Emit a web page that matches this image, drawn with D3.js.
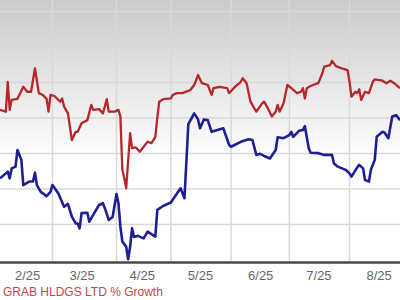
<!DOCTYPE html>
<html><head><meta charset="utf-8">
<script src="https://cdn.jsdelivr.net/npm/d3@7"></script>
<style>html,body{margin:0;padding:0;background:#fff;}svg{display:block;}</style>
</head><body>
<svg id="c" width="400" height="300"></svg>
<script>
const monthLabels = ["2/25","3/25","4/25","5/25","6/25","7/25","8/25"];
const monthTicks = ["2025-02-01","2025-03-01","2025-04-01","2025-05-01","2025-06-01","2025-07-01","2025-08-01"];
const gridDates = ["2025-02-14","2025-03-19","2025-04-16","2025-05-17","2025-06-16","2025-07-17"];
const gridValues = [40,30,20,10,0,-10,-20];
const legendText = "GRAB HLDGS LTD % Growth";

const redDates = ["2025-01-18","2025-01-21","2025-01-22","2025-01-23","2025-01-24","2025-01-27","2025-01-30","2025-02-01","2025-02-03","2025-02-05","2025-02-07","2025-02-09","2025-02-11","2025-02-12","2025-02-13","2025-02-15","2025-02-18","2025-02-19","2025-02-20","2025-02-22","2025-02-24","2025-02-26","2025-02-27","2025-03-01","2025-03-04","2025-03-06","2025-03-07","2025-03-10","2025-03-12","2025-03-14","2025-03-15","2025-03-18","2025-03-20","2025-03-21","2025-03-22","2025-03-23","2025-03-24","2025-03-26","2025-03-27","2025-03-29","2025-03-31","2025-04-04","2025-04-06","2025-04-08","2025-04-09","2025-04-10","2025-04-12","2025-04-16","2025-04-17","2025-04-19","2025-04-22","2025-04-26","2025-04-28","2025-04-30","2025-05-02","2025-05-05","2025-05-07","2025-05-08","2025-05-11","2025-05-15","2025-05-16","2025-05-19","2025-05-22","2025-05-23","2025-05-25","2025-05-27","2025-05-29","2025-05-30","2025-06-02","2025-06-03","2025-06-05","2025-06-07","2025-06-09","2025-06-10","2025-06-11","2025-06-13","2025-06-15","2025-06-17","2025-06-20","2025-06-22","2025-06-23","2025-06-24","2025-06-25","2025-06-27","2025-07-01","2025-07-03","2025-07-04","2025-07-07","2025-07-08","2025-07-10","2025-07-13","2025-07-16","2025-07-17","2025-07-18","2025-07-20","2025-07-21","2025-07-22","2025-07-23","2025-07-25","2025-07-27","2025-07-29","2025-07-30","2025-08-03","2025-08-05","2025-08-07","2025-08-09","2025-08-12"];
const redValues = [12.3,11.8,20.2,12.3,15.1,15.4,18.8,17.4,17.4,24.0,17.0,16.5,15.4,11.8,16.5,16.2,14.6,15.5,13.2,11.3,3.8,6.1,6.1,8.5,9.4,13.7,12.3,12.5,11.3,15.3,11.8,11.8,12.3,10.4,-4.6,-6.9,-9.8,5.7,1.5,1.7,0.5,3.3,2.9,4.7,10.0,14.6,15.3,15.5,16.5,17.0,17.0,17.9,19.3,22.1,19.8,19.3,16.5,18.4,18.8,18.4,17.0,18.8,20.2,21.2,19.8,14.6,12.7,11.8,14.1,14.6,12.7,10.4,11.8,13.7,11.8,14.1,19.3,18.4,17.0,17.4,18.4,15.5,18.4,19.0,19.9,22.6,24.5,24.9,26.1,24.6,24.0,23.5,20.2,16.0,17.4,17.0,18.1,15.1,17.4,17.0,20.2,20.9,20.5,19.8,20.5,19.8,18.4];

const blueDates = ["2025-01-18","2025-01-21","2025-01-22","2025-01-23","2025-01-24","2025-01-26","2025-01-27","2025-01-29","2025-01-30","2025-02-02","2025-02-04","2025-02-05","2025-02-06","2025-02-08","2025-02-11","2025-02-13","2025-02-14","2025-02-17","2025-02-20","2025-02-22","2025-02-24","2025-02-26","2025-02-27","2025-02-28","2025-03-01","2025-03-04","2025-03-05","2025-03-07","2025-03-10","2025-03-12","2025-03-13","2025-03-15","2025-03-17","2025-03-19","2025-03-20","2025-03-21","2025-03-22","2025-03-24","2025-03-25","2025-03-26","2025-03-27","2025-03-28","2025-03-30","2025-04-02","2025-04-04","2025-04-08","2025-04-09","2025-04-12","2025-04-16","2025-04-18","2025-04-21","2025-04-23","2025-04-25","2025-04-28","2025-04-30","2025-05-01","2025-05-03","2025-05-05","2025-05-07","2025-05-10","2025-05-13","2025-05-16","2025-05-17","2025-05-22","2025-05-26","2025-05-28","2025-05-30","2025-06-01","2025-06-03","2025-06-06","2025-06-09","2025-06-10","2025-06-13","2025-06-16","2025-06-17","2025-06-18","2025-06-21","2025-06-23","2025-06-24","2025-06-26","2025-06-27","2025-07-01","2025-07-04","2025-07-08","2025-07-09","2025-07-11","2025-07-15","2025-07-17","2025-07-18","2025-07-21","2025-07-22","2025-07-24","2025-07-25","2025-07-27","2025-07-28","2025-07-30","2025-07-31","2025-08-03","2025-08-04","2025-08-06","2025-08-08","2025-08-10","2025-08-12"];
const blueValues = [-7.0,-5.6,-5.1,-7.0,-4.2,-3.7,1.0,-1.8,-8.9,-7.9,-7.9,-5.4,-8.9,-10.8,-12.0,-10.8,-8.9,-11.2,-15.0,-14.2,-17.8,-19.7,-19.7,-21.1,-16.8,-16.7,-19.2,-17.3,-14.5,-14.0,-15.4,-18.7,-17.9,-11.4,-14.0,-20.6,-24.8,-26.3,-29.8,-26.3,-21.1,-23.5,-23.2,-23.9,-22.0,-23.4,-15.9,-14.8,-13.8,-12.2,-9.8,-12.6,8.3,11.3,9.6,7.1,9.6,9.4,6.1,6.6,7.1,2.4,1.9,3.3,4.0,3.8,-0.4,-0.1,-0.7,-1.4,1.0,4.6,4.3,5.2,6.1,4.7,6.4,6.6,7.7,1.5,0.2,0.1,-0.4,-0.4,-2.8,-3.7,-4.6,-5.6,-6.5,-3.9,-3.2,-4.2,-7.5,-7.9,-4.6,-1.8,4.7,6.1,5.9,4.3,10.4,10.8,9.4];

const parse = d3.utcParse("%Y-%m-%d");
const W = 400, H = 300;
const svg = d3.select("#c");

const x = d3.scaleUtc().domain([parse("2025-01-18"), parse("2025-08-12")]).range([0, W]);
const y = d3.scaleLinear().domain([-30, 30]).range([260, 47]);
const axisY = y(-30.7);

// background gradient
const defs = svg.append("defs");
const grad = defs.append("linearGradient").attr("id","bg").attr("x1",0).attr("y1",0).attr("x2",0).attr("y2",1);
grad.append("stop").attr("offset","0").attr("stop-color","#cbcbcb");
grad.append("stop").attr("offset","1").attr("stop-color","#ffffff");
svg.append("rect").attr("x",0).attr("y",0).attr("width",W).attr("height",160).attr("fill","url(#bg)");

// grid
const grid = svg.append("g");
grid.selectAll("line.h").data(gridValues).join("line")
  .attr("x1",0).attr("x2",W).attr("y1",d=>y(d)).attr("y2",d=>y(d))
  .attr("stroke","#d9d9d9").attr("stroke-width",1.5);
grid.selectAll("line.v").data(gridDates.map(parse)).join("line")
  .attr("x1",d=>x(d)).attr("x2",d=>x(d)).attr("y1",0).attr("y2",axisY)
  .attr("stroke","#d9d9d9").attr("stroke-width",1.5);

// lines
const line = d3.line().x(d=>x(d[0])).y(d=>y(d[1])).curve(d3.curveLinear);
const redData = redDates.map((d,i)=>[parse(d), redValues[i]]);
const blueData = blueDates.map((d,i)=>[parse(d), blueValues[i]]);
svg.append("path").datum(redData).attr("d",line).attr("fill","none")
  .attr("stroke","#b8262b").attr("stroke-width",2.3).attr("stroke-linejoin","round");
svg.append("path").datum(blueData).attr("d",line).attr("fill","none")
  .attr("stroke","#1f1f94").attr("stroke-width",2.6).attr("stroke-linejoin","round");

// x axis
const xAxis = d3.axisBottom(x).tickValues(monthTicks.map(parse))
  .tickFormat((d,i)=>monthLabels[i]).tickSize(0).tickPadding(8);
const ga = svg.append("g").attr("transform",`translate(0,${axisY})`).call(xAxis);
ga.select(".domain").attr("stroke","#4a4a4a").attr("stroke-width",2.5).attr("d",`M0,0H${W}`);
ga.selectAll("text").attr("fill","#666").attr("font-size","13px")
  .attr("font-family","Liberation Sans, Arial, sans-serif");

// legend
svg.append("text").attr("x",3).attr("y",296).text(legendText)
  .attr("fill","#c0474a").attr("font-size","12px")
  .attr("font-family","Liberation Sans, Arial, sans-serif");
</script>
</body></html>
